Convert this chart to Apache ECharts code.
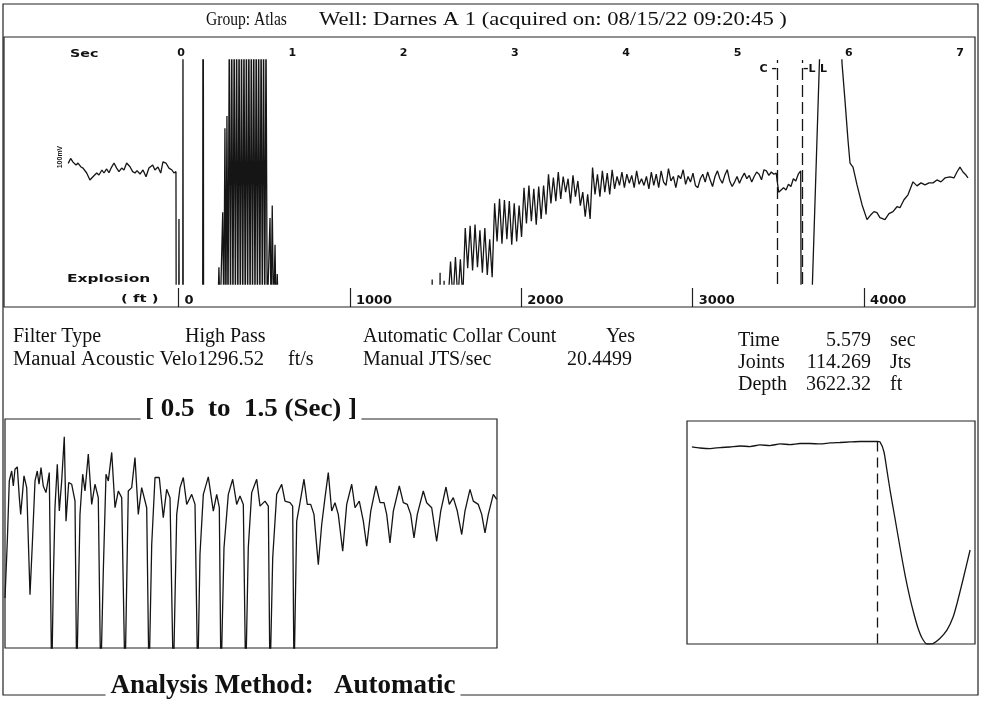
<!DOCTYPE html>
<html><head><meta charset="utf-8">
<script src="https://cdn.jsdelivr.net/npm/echarts@6/dist/echarts.min.js"></script>
<style>html,body{margin:0;padding:0;background:#fff}#c{width:982px;height:704px}</style>
</head><body><div id="c"></div>
<script>
// ---------------- data ----------------
const timeTicks = [0, 1, 2, 3, 4, 5, 6, 7];
const depthTicks = [0, 1000, 2000, 3000, 4000];
// signal before the shot (sec, mV-ish units)
const preShot = [[-1.013,7.7],[-0.991,12.1],[-0.970,8.8],[-0.943,6.2],[-0.925,8.0],[-0.901,4.7],[-0.880,3.5],[-0.847,-0.9],[-0.818,-7.1],[-0.791,-4.2],[-0.757,-0.9],[-0.737,-2.7],[-0.710,1.8],[-0.692,-0.9],[-0.668,2.7],[-0.647,-0.6],[-0.623,4.4],[-0.602,8.0],[-0.578,3.5],[-0.557,0.3],[-0.533,3.5],[-0.512,1.8],[-0.488,8.0],[-0.458,4.7],[-0.434,0.3],[-0.413,-0.9],[-0.395,1.2],[-0.368,-1.8],[-0.341,1.8],[-0.314,-4.2],[-0.288,3.5],[-0.254,6.2],[-0.234,1.8],[-0.207,4.4],[-0.182,-0.9],[-0.162,9.1],[-0.135,8.0],[-0.108,3.5],[-0.081,1.8],[-0.063,-0.9],[-0.045,0.3]];
// saturated near-field after the explosion
const nearField = [[-0.043,-130],[-0.020,-130],[-0.018,-42],[-0.016,-130],[0.016,-130],[0.018,130],[0.020,-130],[0.195,-130],[0.197,130],[0.199,-130],[0.201,130],[0.203,-130],[0.330,-130],[0.341,-85],[0.352,-130],[0.375,-36],[0.385,-130],[0.395,39],[0.404,-130],[0.413,50],[0.423,-130],[0.434,130],[0.445,-130],[0.456,130],[0.467,-130],[0.478,130],[0.489,-130],[0.500,130],[0.511,-130],[0.522,130],[0.533,-130],[0.544,130],[0.555,-130],[0.566,130],[0.577,-130],[0.588,130],[0.599,-130],[0.610,130],[0.621,-130],[0.632,130],[0.643,-130],[0.654,130],[0.665,-130],[0.676,130],[0.687,-130],[0.698,130],[0.709,-130],[0.720,130],[0.731,-130],[0.742,130],[0.753,-130],[0.764,130],[0.775,-130],[0.800,-41],[0.810,-130],[0.820,-30],[0.832,-130],[0.845,-65],[0.855,-130],[0.865,-91],[0.875,-130],[2.255,-130],[2.257,-96],[2.259,-130],[2.326,-130],[2.328,-90],[2.330,-130],[2.362,-130],[2.364,-97],[2.366,-130]];
// collar echoes, sampled every half collar period from 2.40 s
const riseStart = 2.40, riseStep = 0.022;
const riseValues = [-115,-80,-115,-76,-115,-78,-112,-50,-86,-48,
 -88,-47,-85,-52,-90,-50,-92,-60,-94,-28,
 -62,-24,-64,-25,-60,-26,-65,-28,-62,-30,
 -58,-14,-46,-12,-44,-15,-47,-13,-42,-12,
 -38,-2,-28,-5,-26,0,-24,-4,-18,-6,
 -28,-3,-22,-8,-30,-18,-40,-20,-42,4,
 -20,-2,-22,1,-18,-1,-20,2,-15,-4,
 -12,0,-14,-2,-10,-3,-14,1,-11,-6,
 -12,-4,-15,0,-12,-2,-14,1,-9,-12,
 3,-8,-4,-14,-3,-6,2,-11,-4,-9,
 -1,-12,-14,-6,-2,-9,0,-7,-13,-4,
 1,-6,-10,-3,2,-8,-13,-9,-4,-10,
 -5,-1,-6,-3,-9,-4,0,-2,-7,2,
 1,-3,0,-2,-1,-18,-16,-14,-16,-11,
 -13,-6,-8,-2,1];
// liquid level kick and after
const tail = [[5.572,-130],[5.670,-110],[5.740,110],[5.760,130],[5.930,130],[5.939,97.3],[5.966,63.7],[5.993,28.3],[6.011,8.0],[6.038,4.4],[6.074,-11.5],[6.119,-29.2],[6.164,-42.5],[6.199,-38.1],[6.226,-35.4],[6.253,-36.3],[6.280,-40.7],[6.325,-42.5],[6.361,-37.2],[6.397,-35.4],[6.433,-31.0],[6.460,-31.9],[6.496,-24.8],[6.532,-20.4],[6.577,-8.8],[6.613,-12.4],[6.649,-9.7],[6.685,-11.5],[6.721,-9.7],[6.757,-9.7],[6.792,-7.1],[6.828,-8.8],[6.864,-5.3],[6.909,-4.4],[6.945,-5.3],[6.972,0],[6.999,4.4],[7.026,0],[7.053,-2.7],[7.071,-5.3]];
const markerTimes = [5.364, 5.579];
// 0.5 - 1.5 s detail (ms, units)
const detailPoints = [[500,-56.4],[504.7,-6.8],[508.7,45.9],[513.6,54.6],[516.9,41.5],[520.3,56.1],[525.0,58.2],[529.1,31.3],[531.9,16.7],[538.6,50.3],[544.1,40.1],[550.8,-53.5],[555.5,-9.6],[561.0,45.9],[565.6,54.6],[569.1,43.0],[573.2,57.6],[577.8,41.5],[583.3,35.7],[590.0,53.2],[594.9,-130],[598.2,-41.8],[601.6,22.8],[606.3,60.5],[610.4,19.6],[615.2,45.9],[620.5,84.5],[624.0,10.8],[629.5,44.5],[635.6,43.0],[642.3,28.3],[645.7,-130],[652.4,16.7],[657.9,51.8],[662.6,37.1],[669.3,69.3],[676.2,25.4],[682.9,43.0],[689.6,31.3],[694.5,-130],[699.8,-33.1],[705.3,51.8],[710.0,45.9],[716.9,70.8],[723.6,22.5],[730.3,37.1],[737.2,31.3],[743.9,-130],[750.6,37.1],[757.5,40.1],[764.2,66.4],[770.9,16.7],[777.8,40.1],[788.0,22.5],[792.7,-130],[798.2,-9.6],[804.9,48.9],[813.6,48.9],[821.7,13.8],[828.6,38.6],[835.4,31.3],[842.1,-130],[849.0,16.7],[855.7,40.1],[862.4,48.9],[869.3,25.4],[879.5,34.2],[886.2,25.4],[891.7,-130],[896.3,-18.4],[903.1,34.2],[913.2,49.4],[923.4,19.6],[930.3,34.2],[935.6,22.5],[939.0,-130],[945.1,-12.5],[953.9,34.2],[962.8,47.4],[970.9,25.4],[977.6,32.7],[984.4,25.4],[989.2,-130],[994.5,-12.5],[1001.4,35.7],[1011.6,47.4],[1018.3,23.9],[1028.5,28.3],[1035.2,23.9],[1038.6,-130],[1044.1,-21.3],[1052.2,34.2],[1062.4,43.0],[1069.1,28.3],[1079.3,26.9],[1084.7,23.9],[1087.4,-130],[1092.9,10.8],[1099.6,26.9],[1107.7,47.4],[1114.4,25.4],[1121.3,25.4],[1128.0,16.7],[1136.8,-27.2],[1143.7,7.9],[1150.4,31.3],[1157.1,53.2],[1164.0,19.6],[1170.7,26.9],[1177.4,16.7],[1186.4,-15.5],[1194.5,25.4],[1204.7,43.0],[1211.4,22.5],[1220.1,28.3],[1228.3,10.8],[1235.2,-11.1],[1243.4,19.6],[1254.1,41.5],[1262.3,26.9],[1270.4,26.9],[1275.8,16.7],[1282.5,-8.2],[1289.3,19.6],[1301.4,41.5],[1309.6,26.9],[1317.7,25.4],[1324.6,16.7],[1331.3,-3.8],[1338.0,16.7],[1350.2,37.1],[1357.1,26.9],[1367.3,22.5],[1377.4,-6.8],[1385.6,19.6],[1396.3,40.6],[1403.0,25.4],[1411.2,31.3],[1419.3,19.6],[1428.3,-0.9],[1434.9,19.6],[1445.1,38.6],[1451.8,28.3],[1462.0,25.4],[1468.9,16.7],[1475.6,0.6],[1482.3,16.7],[1492.5,34.2],[1499.4,29.8]];
// liquid level window (percent of window, units)
const liquidPoints = [[1.7,76.7],[4.5,75.8],[8.0,75.3],[11.5,76.2],[14.9,76.7],[18.4,77.6],[21.9,77.1],[25.3,78.5],[28.8,78.0],[32.3,79.4],[35.8,78.9],[39.2,79.8],[42.7,79.8],[46.2,79.4],[49.7,80.3],[53.1,80.7],[56.6,81.2],[60.1,81.6],[63.5,81.6],[66.0,81.6],[67.0,81.2],[68.4,72.2],[69.4,56.1],[70.5,38.1],[72.2,13.0],[74.0,-13.9],[75.7,-38.1],[77.4,-58.7],[78.8,-73.1],[80.2,-85.7],[81.6,-94.6],[83.3,-100],[85.4,-99.6],[87.8,-95.1],[90.3,-87.4],[92.4,-75.8],[93.8,-63.2],[95.8,-42.6],[98.3,-15.7]];
const liquidMarker = [66.0, 81.6, -100];

// ---------------- build ----------------
const riseData = riseValues.map((v, i) => [riseStart + i * riseStep, v]);
const mainData = preShot.concat(nearField, riseData, tail);

const serif = '"Liberation Serif", "Times New Roman", serif';
const sans = '"DejaVu Sans", sans-serif';
function T(x, y, text, o) {
  o = o || {};
  const st = {
    text: text, x: 0, y: 0,
    font: o.font || ('20px ' + serif),
    fill: '#111',
    align: o.align || 'left', textAlign: o.align || 'left',
    verticalAlign: 'middle', textVerticalAlign: 'middle'
  };
  if (o.bg) { st.backgroundColor = o.bg; st.padding = o.pad || [0, 4]; }
  return { type: 'text', x: x, y: y, z: 100, rotation: o.rot || 0, scaleX: o.sx || 1, style: st, silent: true };
}

const graphics = [
  { type: 'rect', z: 1, silent: true, shape: { x: 3, y: 4, width: 975, height: 691 }, style: { fill: 'none', stroke: '#222', lineWidth: 1.2 } },
  T(206, 20, 'Group: Atlas', { font: '19px ' + serif, sx: 0.82 }),
  T(319, 20, 'Well: Darnes A 1 (acquired on: 08/15/22 09:20:45 )', { font: '19px ' + serif, sx: 1.19 }),
  T(70, 54, 'Sec', { font: 'bold 11px ' + sans, sx: 1.3 }),
  T(67, 279, 'Explosion', { font: 'bold 11px ' + sans, sx: 1.4 }),
  T(121, 299, '( ft )', { font: 'bold 11px ' + sans, sx: 1.35 }),
  T(60, 157, '100mV', { font: 'bold 7px "Liberation Sans", sans-serif', align: 'center', rot: Math.PI / 2 }),
  T(777, 69, 'C \u2013', { font: 'bold 11px ' + sans, align: 'right' }),
  T(803, 69, '\u2013L', { font: 'bold 11px ' + sans }),
  T(820, 69, 'L', { font: 'bold 11px ' + sans }),
  T(13, 337, 'Filter Type'),
  T(185, 337, 'High Pass'),
  T(13, 360, 'Manual Acoustic Velo1296.52', { sx: 1.03 }),
  T(288, 360, 'ft/s'),
  T(363, 337, 'Automatic Collar Count'),
  T(635, 337, 'Yes', { align: 'right' }),
  T(363, 360, 'Manual JTS/sec'),
  T(632, 360, '20.4499', { align: 'right' }),
  T(738, 341, 'Time'), T(871, 341, '5.579', { align: 'right' }), T(890, 341, 'sec'),
  T(738, 363, 'Joints'), T(871, 363, '114.269', { align: 'right' }), T(890, 363, 'Jts'),
  T(738, 385, 'Depth'), T(871, 385, '3622.32', { align: 'right' }), T(890, 385, 'ft'),
  T(251, 410, '[ 0.5  to  1.5 (Sec) ]', { font: 'bold 25px ' + serif, align: 'center', bg: '#fff', pad: [0, 4], sx: 1.08 }),
  T(283, 686, 'Analysis Method:   Automatic', { font: 'bold 27px ' + serif, align: 'center', bg: '#fff', pad: [0, 5] })
];

const lineCol = '#151515';
const option = {
  animation: false,
  backgroundColor: '#fff',
  grid: [
    { left: 4, top: 37, width: 971, height: 270, show: true, borderColor: '#222', borderWidth: 1.2, backgroundColor: 'transparent' },
    { left: 4, top: 60, width: 971, height: 224, show: false },
    { left: 5, top: 419, width: 492, height: 229, show: true, borderColor: '#222', borderWidth: 1.2, backgroundColor: 'transparent' },
    { left: 687, top: 421, width: 288, height: 223, show: true, borderColor: '#222', borderWidth: 1.2, backgroundColor: 'transparent' }
  ],
  xAxis: [
    { gridIndex: 0, type: 'value', position: 'top', min: -1.590, max: 7.134,
      axisLine: { show: false }, axisTick: { show: false }, splitLine: { show: false },
      axisLabel: { inside: true, margin: 11, customValues: timeTicks, color: '#111', fontFamily: 'DejaVu Sans', fontWeight: 'bold', fontSize: 11, formatter: v => String(v) } },
    { gridIndex: 0, type: 'value', position: 'bottom', min: -1018, max: 4647,
      axisLine: { show: false }, splitLine: { show: false },
      axisTick: { show: true, inside: true, length: 19, customValues: depthTicks, lineStyle: { color: '#222', width: 1.2 } },
      axisLabel: { inside: true, margin: 0, align: 'left', padding: [0, 0, 0, 6], customValues: depthTicks, color: '#111', fontFamily: 'DejaVu Sans', fontWeight: 'bold', fontSize: 13, formatter: v => String(v) } },
    { gridIndex: 1, type: 'value', min: -1.590, max: 7.134, show: false },
    { gridIndex: 2, type: 'value', min: 500, max: 1500, show: false },
    { gridIndex: 3, type: 'value', min: 0, max: 100, show: false }
  ],
  yAxis: [
    { gridIndex: 0, type: 'value', min: 0, max: 1, show: false },
    { gridIndex: 1, type: 'value', min: -100, max: 100, show: false },
    { gridIndex: 2, type: 'value', min: -100, max: 100, show: false },
    { gridIndex: 3, type: 'value', min: -100, max: 100, show: false }
  ],
  series: [
    { type: 'line', xAxisIndex: 2, yAxisIndex: 1, data: mainData, symbol: 'none', clip: true, silent: true,
      lineStyle: { color: lineCol, width: 1.3 },
      markLine: { silent: true, symbol: ['none', 'none'], label: { show: false },
        lineStyle: { color: lineCol, width: 1.3, type: [12, 5] },
        data: markerTimes.map(t => ({ xAxis: t })) } },
    { type: 'line', xAxisIndex: 3, yAxisIndex: 2, data: detailPoints, symbol: 'none', clip: true, silent: true,
      lineStyle: { color: lineCol, width: 1.3 } },
    { type: 'line', xAxisIndex: 4, yAxisIndex: 3, data: liquidPoints, symbol: 'none', clip: true, silent: true, smooth: 0.2,
      lineStyle: { color: lineCol, width: 1.3 },
      markLine: { silent: true, symbol: ['none', 'none'], label: { show: false },
        lineStyle: { color: lineCol, width: 1.3, type: [10, 6] },
        data: [[{ coord: [liquidMarker[0], liquidMarker[1]] }, { coord: [liquidMarker[0], liquidMarker[2]] }]] } }
  ],
  graphic: graphics
};
const chart = echarts.init(document.getElementById('c'), null, { renderer: 'canvas' });
chart.setOption(option);
</script>
</body></html>
